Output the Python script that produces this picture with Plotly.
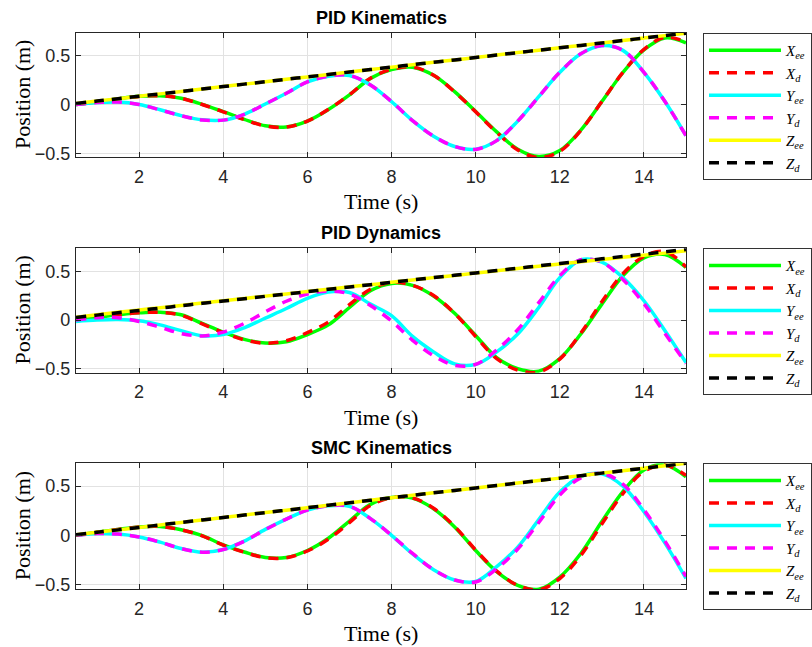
import plotly.graph_objects as go

# Sample times (s)
time = [0.5, 1.0, 1.5, 2.0, 2.5, 3.0, 3.5, 4.0, 4.5, 5.0, 5.5, 6.0, 6.5, 7.0, 7.5,
        8.0, 8.5, 9.0, 9.5, 10.0, 10.5, 11.0, 11.5, 12.0, 12.5, 13.0, 13.5, 14.0, 14.5, 15.0]

# ---- PID Kinematics ----
x_ee_1 = [0.0, 0.025, 0.058, 0.084, 0.09, 0.064, 0.002, -0.073, -0.153, -0.218, -0.23, -0.17, -0.052, 0.098, 0.268,
          0.358, 0.383, 0.3, 0.132, -0.072, -0.28, -0.458, -0.533, -0.472, -0.262, 0.03, 0.328, 0.56, 0.682, 0.632]
x_d_1 = [0.0, 0.025, 0.057, 0.083, 0.09, 0.063, 0.0, -0.075, -0.155, -0.22, -0.232, -0.17, -0.05, 0.1, 0.27,
         0.36, 0.385, 0.3, 0.13, -0.075, -0.285, -0.465, -0.545, -0.48, -0.265, 0.03, 0.33, 0.565, 0.69, 0.64]
y_ee_1 = [0.0, 0.02, 0.026, 0.0, -0.054, -0.114, -0.157, -0.16, -0.1, 0.005, 0.115, 0.232, 0.29, 0.298, 0.2,
          0.03, -0.165, -0.325, -0.43, -0.458, -0.37, -0.17, 0.08, 0.33, 0.52, 0.603, 0.555, 0.33, 0.03, -0.32]
y_d_1 = [0.0, 0.02, 0.025, 0.0, -0.055, -0.115, -0.158, -0.16, -0.1, 0.005, 0.115, 0.232, 0.29, 0.298, 0.2,
         0.03, -0.165, -0.325, -0.43, -0.46, -0.37, -0.17, 0.08, 0.33, 0.52, 0.605, 0.555, 0.33, 0.03, -0.32]
z_ee_1 = [0.010, 0.035, 0.060, 0.085, 0.109, 0.134, 0.159, 0.184, 0.209, 0.234, 0.259, 0.283, 0.308, 0.333, 0.358,
          0.383, 0.408, 0.433, 0.457, 0.482, 0.507, 0.532, 0.557, 0.582, 0.606, 0.631, 0.656, 0.681, 0.706, 0.731]
z_d_1 = [0.010, 0.035, 0.060, 0.085, 0.109, 0.134, 0.159, 0.184, 0.209, 0.234, 0.259, 0.283, 0.308, 0.333, 0.358,
         0.383, 0.408, 0.433, 0.457, 0.482, 0.507, 0.532, 0.557, 0.582, 0.606, 0.631, 0.656, 0.681, 0.706, 0.731]

# ---- PID Dynamics ----
x_ee_2 = [0.01, 0.03, 0.055, 0.075, 0.082, 0.055, -0.035, -0.125, -0.2, -0.238, -0.225, -0.15, -0.05, 0.13, 0.305,
          0.38, 0.36, 0.25, 0.07, -0.16, -0.39, -0.505, -0.53, -0.40, -0.145, 0.165, 0.46, 0.645, 0.68, 0.545]
x_d_2 = [0.01, 0.03, 0.055, 0.075, 0.08, 0.05, -0.04, -0.13, -0.205, -0.24, -0.215, -0.13, -0.02, 0.16, 0.32,
         0.39, 0.36, 0.255, 0.07, -0.17, -0.4, -0.52, -0.54, -0.405, -0.135, 0.19, 0.48, 0.66, 0.71, 0.55]
y_ee_2 = [-0.014, 0.0, 0.005, -0.007, -0.05, -0.11, -0.162, -0.15, -0.08, 0.02, 0.12, 0.225, 0.29, 0.285, 0.165,
          0.045, -0.17, -0.33, -0.455, -0.46, -0.33, -0.145, 0.13, 0.44, 0.625, 0.6, 0.44, 0.2, -0.11, -0.44]
y_d_2 = [0.0, 0.025, 0.025, -0.015, -0.075, -0.14, -0.165, -0.125, -0.035, 0.085, 0.195, 0.27, 0.30, 0.27, 0.15,
         -0.01, -0.21, -0.37, -0.47, -0.46, -0.31, -0.1, 0.18, 0.46, 0.625, 0.6, 0.42, 0.17, -0.14, -0.45]
z_ee_2 = [0.030, 0.056, 0.081, 0.105, 0.128, 0.152, 0.177, 0.200, 0.223, 0.248, 0.271, 0.296, 0.320, 0.345, 0.366,
          0.392, 0.415, 0.440, 0.463, 0.487, 0.511, 0.535, 0.558, 0.582, 0.604, 0.627, 0.650, 0.672, 0.694, 0.718]
z_d_2 = [0.027, 0.051, 0.076, 0.100, 0.124, 0.149, 0.173, 0.197, 0.221, 0.246, 0.270, 0.294, 0.319, 0.343, 0.367,
         0.392, 0.416, 0.440, 0.464, 0.489, 0.513, 0.537, 0.562, 0.586, 0.610, 0.635, 0.659, 0.683, 0.707, 0.732]

# ---- SMC Kinematics ----
x_ee_3 = [0.0, 0.03, 0.06, 0.085, 0.09, 0.057, -0.003, -0.098, -0.17, -0.226, -0.226, -0.155, -0.03, 0.145, 0.315,
          0.384, 0.378, 0.27, 0.085, -0.155, -0.37, -0.51, -0.55, -0.425, -0.185, 0.14, 0.445, 0.665, 0.715, 0.595]
x_d_3 = [0.0, 0.03, 0.06, 0.085, 0.09, 0.055, -0.005, -0.1, -0.172, -0.228, -0.228, -0.16, -0.04, 0.13, 0.305,
         0.383, 0.38, 0.275, 0.09, -0.15, -0.365, -0.51, -0.555, -0.44, -0.205, 0.115, 0.425, 0.65, 0.715, 0.61]
y_ee_3 = [0.0, 0.017, 0.012, -0.017, -0.07, -0.135, -0.172, -0.145, -0.06, 0.06, 0.165, 0.257, 0.3, 0.295, 0.17,
          0.0, -0.19, -0.35, -0.455, -0.47, -0.32, -0.12, 0.16, 0.44, 0.6, 0.625, 0.5, 0.24, -0.08, -0.44]
y_d_3 = [0.0, 0.017, 0.012, -0.017, -0.07, -0.135, -0.172, -0.145, -0.06, 0.058, 0.165, 0.257, 0.3, 0.295, 0.17,
         0.0, -0.185, -0.35, -0.455, -0.475, -0.34, -0.14, 0.13, 0.41, 0.585, 0.63, 0.52, 0.26, -0.06, -0.42]
z_ee_3 = [0.005, 0.030, 0.055, 0.080, 0.105, 0.131, 0.156, 0.181, 0.206, 0.231, 0.256, 0.281, 0.306, 0.331, 0.356,
          0.382, 0.407, 0.432, 0.457, 0.482, 0.507, 0.532, 0.557, 0.582, 0.607, 0.633, 0.658, 0.683, 0.708, 0.733]
z_d_3 = [0.005, 0.030, 0.055, 0.080, 0.105, 0.131, 0.156, 0.181, 0.206, 0.231, 0.256, 0.281, 0.306, 0.331, 0.356,
         0.382, 0.407, 0.432, 0.457, 0.482, 0.507, 0.532, 0.557, 0.582, 0.607, 0.633, 0.658, 0.683, 0.708, 0.733]

panel_titles = ["PID Kinematics", "PID Dynamics", "SMC Kinematics"]
y_ranges = [[-0.538, 0.733], [-0.546, 0.744], [-0.55, 0.733]]
x_ticks = [2, 4, 6, 8, 10, 12, 14]
y_ticks = [-0.5, 0, 0.5]
series_names = ["<i>X</i><sub><i>ee</i></sub>", "<i>X</i><sub><i>d</i></sub>",
                "<i>Y</i><sub><i>ee</i></sub>", "<i>Y</i><sub><i>d</i></sub>",
                "<i>Z</i><sub><i>ee</i></sub>", "<i>Z</i><sub><i>d</i></sub>"]
series_colors = ["#00ff00", "#ff0000", "#00ffff", "#ff00ff", "#ffff00", "#000000"]
series_dashed = [False, True, False, True, False, True]

panels = [
    [x_ee_1, x_d_1, y_ee_1, y_d_1, z_ee_1, z_d_1],
    [x_ee_2, x_d_2, y_ee_2, y_d_2, z_ee_2, z_d_2],
    [x_ee_3, x_d_3, y_ee_3, y_d_3, z_ee_3, z_d_3],
]

# Layout in pixels
W, H = 812, 647
ML, MR = 76, 126
plot_w = W - ML - MR
panel_px = [(33, 157), (248.3, 372.7), (463.3, 589.3)]  # top, bottom
AX_COLOR = "#262626"
GRID_COLOR = "#e2e2e2"
SANS = "Liberation Sans, Arial, sans-serif"
SERIF = "Liberation Serif, Times New Roman, serif"

fig = go.Figure()
annotations = []
layout_axes = {}

for p, series in enumerate(panels):
    top, bot = panel_px[p]
    dom = [1 - bot / H, 1 - top / H]
    idx = "" if p == 0 else str(p + 1)
    xa, ya = "x" + idx, "y" + idx
    leg = "legend" + idx
    for name, vals, col, dashed in zip(series_names, series, series_colors, series_dashed):
        fig.add_trace(go.Scatter(
            x=time, y=vals, mode="lines", name=name, xaxis=xa, yaxis=ya, legend=leg,
            line=dict(color=col, width=3.5, shape="spline", smoothing=1.0,
                      dash="10px,8px" if dashed else "solid"),
            hoverinfo="skip",
        ))
    common = dict(showline=True, linecolor=AX_COLOR, linewidth=1.2, mirror="ticks",
                  ticks="inside", ticklen=5, tickcolor=AX_COLOR, tickwidth=1.2,
                  showgrid=True, gridcolor=GRID_COLOR, gridwidth=1, zeroline=False,
                  tickfont=dict(family=SANS, size=18, color=AX_COLOR))
    layout_axes["xaxis" + idx] = dict(common, range=[0.5, 15], tickvals=x_ticks,
                                      anchor=ya, domain=[0, 1], ticklabelstandoff=3)
    layout_axes["yaxis" + idx] = dict(common, range=y_ranges[p], tickvals=y_ticks,
                                      ticktext=["\u22120.5", "0", "0.5"],
                                      anchor=xa, domain=dom, ticklabelstandoff=1)
    layout_axes[leg] = dict(x=(703 - ML) / plot_w, y=dom[1], xanchor="left", yanchor="top",
                            xref="paper", yref="paper", bgcolor="white",
                            bordercolor="#333333", borderwidth=1,
                            font=dict(family=SERIF, size=15, color="#000000"),
                            itemwidth=72, tracegroupgap=0)
    # panel title
    annotations.append(dict(text="<b>" + panel_titles[p] + "</b>", x=0.5, y=dom[1],
                            xref="paper", yref="paper", xanchor="center", yanchor="bottom",
                            yshift=3, showarrow=False,
                            font=dict(family=SANS, size=18, color="#000000")))
    # axis titles
    annotations.append(dict(text="Time (s)", x=0.5, y=dom[0], xref="paper", yref="paper",
                            xanchor="center", yanchor="top", yshift=-30, showarrow=False,
                            font=dict(family=SERIF, size=22, color="#000000")))
    annotations.append(dict(text="Position (m)", x=(22 - ML) / plot_w, y=(dom[0] + dom[1]) / 2,
                            xref="paper", yref="paper", xanchor="center", yanchor="middle",
                            textangle=-90, showarrow=False,
                            font=dict(family=SERIF, size=22, color="#000000")))

fig.update_layout(
    width=W, height=H,
    margin=dict(l=ML, r=MR, t=0, b=0, autoexpand=False),
    paper_bgcolor="white", plot_bgcolor="white",
    annotations=annotations,
    **layout_axes,
)

fig.write_html("out.html")
